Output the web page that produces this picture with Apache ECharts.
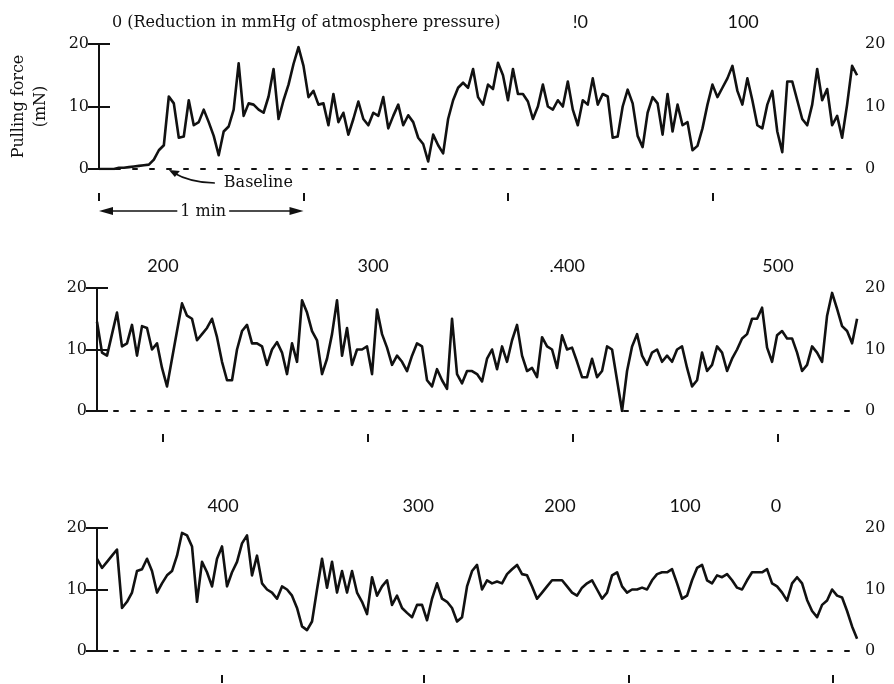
<!DOCTYPE html>
<html>
<head>
<meta charset="utf-8">
<script src="https://cdn.jsdelivr.net/npm/echarts@6/dist/echarts.min.js"></script>
<style>
  html, body { margin: 0; padding: 0; background: #fff; }
  #chart { width: 894px; height: 684px; }
</style>
</head>
<body>
<div id="chart"></div>
<script>
// one sample every 5 px of the trace, 205 px = 1 min
var dt = 60 / 41;
var spanSec = 223;

// pulling force (mN), first row
var force1 = [
  0, 0, 0, 0, 0.2, 0.2, 0.3, 0.4, 0.5, 0.6,
  0.7, 1.5, 3.0, 3.8, 11.6, 10.5, 5, 5.2, 11, 7,
  7.5, 9.5, 7.5, 5.3, 2.2, 6, 6.8, 9.5, 16.9, 8.5,
  10.5, 10.3, 9.5, 9, 11.6, 16, 8, 11, 13.5, 16.8,
  19.5, 16.5, 11.5, 12.5, 10.3, 10.5, 7, 12, 7.5, 9,
  5.5, 8, 10.8, 8, 7, 9, 8.5, 11.5, 6.5, 8.5,
  10.3, 7, 8.6, 7.5, 5, 4, 1.2, 5.5, 3.8, 2.5,
  8, 11, 13, 13.8, 13, 16, 11.5, 10.3, 13.5, 12.8,
  17, 15, 11, 16, 12, 12, 10.8, 8, 10, 13.5,
  10, 9.5, 11, 10, 14, 9.5, 7, 11, 10.3, 14.5,
  10.3, 12, 11.6, 5, 5.2, 10, 12.7, 10.5, 5.3, 3.5,
  9, 11.5, 10.5, 5.5, 12, 6, 10.3, 7, 7.5, 3,
  3.7, 6.5, 10.3, 13.5, 11.5, 13, 14.5, 16.5, 12.5, 10.3,
  14.5, 11, 7, 6.5, 10.3, 12.5, 6, 2.7, 14, 14,
  11, 8, 7, 10.3, 16, 11, 12.8, 7, 8.5, 5,
  10.3, 16.5, 15
];

// second row
var force2 = [
  14.5, 9.5, 9, 12.5, 16, 10.5, 11, 14, 9, 13.8,
  13.5, 10, 11, 7, 4, 8.5, 13, 17.5, 15.5, 15,
  11.5, 12.5, 13.5, 15, 12, 8, 5, 5, 10, 13,
  14, 11, 11, 10.5, 7.5, 10, 11.2, 9.5, 6, 11,
  8, 18, 16, 13, 11.5, 6, 8.5, 12.5, 18, 9,
  13.5, 7.5, 10, 10, 10.5, 6, 16.5, 12.5, 10.3, 7.5,
  9, 8, 6.5, 9, 11, 10.5, 5, 4, 6.8, 5,
  3.6, 15, 6, 4.5, 6.5, 6.5, 6, 4.8, 8.5, 10,
  6.8, 10.5, 8, 11.5, 14, 9, 6.5, 7, 5.5, 12,
  10.5, 10, 7, 12.3, 10, 10.3, 8, 5.5, 5.5, 8.5,
  5.5, 6.5, 10.5, 10, 5, 0, 6.5, 10.5, 12.5, 9,
  7.5, 9.5, 10, 8, 9, 8, 10, 10.5, 7, 4,
  5, 9.5, 6.5, 7.5, 10.5, 9.5, 6.5, 8.5, 10, 11.8,
  12.5, 15, 15, 16.8, 10.3, 8, 12.3, 13, 11.8, 11.8,
  9.5, 6.5, 7.5, 10.5, 9.5, 8, 15.5, 19.2, 16.6, 13.8,
  13, 11, 15
];

// third row
var force3 = [
  15, 13.5, 14.5, 15.5, 16.5, 7, 8, 9.5, 13, 13.3,
  15, 13, 9.5, 11, 12.3, 13, 15.5, 19.2, 18.8, 17,
  8, 14.5, 12.8, 10.5, 15, 17, 10.5, 12.8, 14.5, 17.5,
  18.8, 12.3, 15.5, 11, 10, 9.5, 8.5, 10.5, 10, 9,
  7, 4, 3.4, 4.8, 10, 15, 10.3, 14.5, 9.5, 13,
  9.5, 13, 9.5, 8, 6, 12, 9, 10.5, 11.5, 7.5,
  9, 7, 6.2, 5.5, 7.5, 7.5, 5, 8.5, 11, 8.5,
  8, 7, 4.8, 5.5, 10.5, 13, 14, 10, 11.5, 11,
  11.3, 11, 12.5, 13.3, 14, 12.5, 12.3, 10.5, 8.5, 9.5,
  10.5, 11.5, 11.5, 11.5, 10.5, 9.5, 9, 10.3, 11, 11.5,
  10, 8.5, 9.5, 12.3, 12.8, 10.5, 9.5, 10, 10, 10.3,
  10, 11.5, 12.5, 12.8, 12.8, 13.3, 11, 8.5, 9, 11.5,
  13.5, 14, 11.5, 11, 12.3, 12, 12.5, 11.5, 10.3, 10,
  11.5, 12.8, 12.8, 12.8, 13.3, 11, 10.5, 9.5, 8.2, 11,
  12, 11, 8.3, 6.5, 5.5, 7.5, 8.2, 10, 9, 8.7,
  6.5, 4, 2
];

// time marks under each row (s)
var minTicks1 = [0, 60, 120, 180];
var minTicks2 = [19.3, 79.3, 139.3, 199.3];
var minTicks3 = [36.6, 95.7, 155.7, 215.4];

// pressure reduction labels (mmHg) above each row
var pTimes1 = [3.8, 139, 184.4];
var pText1 = ['0 (Reduction in mmHg of atmosphere pressure)', '!0', '100'];
var pTimes2 = [19.3, 80.8, 137.6, 199.3];
var pText2 = ['200', '300', '.400', '500'];
var pTimes3 = [36.9, 94, 135.5, 172.1, 198.7];
var pText3 = ['400', '300', '200', '100', '0'];

var baselineMark = [20.5, 0];
var oneMin = [0, 60];

var ink = '#111';
var serif = 'DejaVu Serif';

var rows = [
  { data: force1, ticks: minTicks1, pt: pTimes1, ps: pText1, top: 44, h: 125, tickOff: 24, align: 'left' },
  { data: force2, ticks: minTicks2, pt: pTimes2, ps: pText2, top: 288, h: 123, tickOff: 23, align: 'center' },
  { data: force3, ticks: minTicks3, pt: pTimes3, ps: pText3, top: 528, h: 123, tickOff: 24, align: 'center' }
];

function pairs(arr) {
  return arr.map(function (v, i) { return [i * dt, v]; });
}

var grids = [], xAxes = [], yAxes = [], series = [];

rows.forEach(function (r, g) {
  grids.push({ left: 97, width: 762, top: r.top, height: r.h });

  // dotted zero line
  xAxes.push({
    type: 'value', gridIndex: g, min: 0, max: spanSec, position: 'bottom',
    axisLine: { show: true, onZero: false, lineStyle: { color: ink, width: 2, type: [4, 13] } },
    axisTick: { show: false }, axisLabel: { show: false }, splitLine: { show: false }
  });
  // minute marks below
  xAxes.push({
    type: 'value', gridIndex: g, min: 0, max: spanSec, position: 'bottom', offset: r.tickOff,
    axisLine: { show: false, onZero: false },
    axisTick: { show: true, customValues: r.ticks, length: 8, lineStyle: { color: ink, width: 2 } },
    axisLabel: { show: false }, splitLine: { show: false }
  });
  // pressure labels above
  xAxes.push({
    type: 'value', gridIndex: g, min: 0, max: spanSec, position: 'top',
    axisLine: { show: false, onZero: false }, axisTick: { show: false }, splitLine: { show: false },
    axisLabel: {
      show: true, customValues: r.pt, margin: 13, align: r.align,
      formatter: function (val) {
        var k = 0, best = 1e9;
        r.pt.forEach(function (t, j) { if (Math.abs(t - val) < best) { best = Math.abs(t - val); k = j; } });
        var s = r.ps[k];
        return /^[0-9.!]+$/.test(s) ? '{n|' + s + '}' : '{s|' + s + '}';
      },
      rich: {
        n: { fontFamily: 'Lato', fontSize: 18, color: ink },
        s: { fontFamily: serif, fontSize: 16, color: ink }
      }
    }
  });

  var yBase = {
    type: 'value', gridIndex: g, min: 0, max: 20, interval: 10,
    axisLine: { show: true, lineStyle: { color: ink, width: 2 } },
    axisTick: { show: true, inside: true, length: 11, lineStyle: { color: ink, width: 2 } },
    splitLine: { show: false }
  };
  var yl = Object.assign({}, yBase, {
    position: 'left',
    axisLabel: { margin: 10, fontFamily: serif, fontSize: 16, color: ink }
  });
  if (g === 0) {
    yl.name = 'Pulling force\n(mN)';
    yl.nameLocation = 'middle';
    yl.nameRotate = 90;
    yl.nameGap = 47;
    yl.nameTextStyle = { fontFamily: serif, fontSize: 16, color: ink, lineHeight: 22 };
  }
  yAxes.push(yl);
  yAxes.push(Object.assign({}, yBase, {
    position: 'right',
    axisLabel: { margin: 6, fontFamily: serif, fontSize: 16, color: ink }
  }));

  series.push({
    type: 'line', xAxisIndex: 3 * g, yAxisIndex: 2 * g,
    data: pairs(r.data), symbol: 'none', z: 3,
    lineStyle: { color: ink, width: 2.6, join: 'round' }
  });
});

var chart = echarts.init(document.getElementById('chart'));
chart.setOption({
  animation: false,
  backgroundColor: '#fff',
  grid: grids,
  xAxis: xAxes,
  yAxis: yAxes,
  series: series
});

// annotations on the first row
var a = chart.convertToPixel({ gridIndex: 0 }, [oneMin[0], 0]);
var b = chart.convertToPixel({ gridIndex: 0 }, [oneMin[1], 0]);
var bl = chart.convertToPixel({ gridIndex: 0 }, baselineMark);
var ay = a[1] + 42;

chart.setOption({
  graphic: [
    { type: 'line', shape: { x1: a[0] + 4, y1: ay, x2: b[0] - 4, y2: ay }, style: { stroke: ink, lineWidth: 1.5 } },
    { type: 'polygon', shape: { points: [[a[0], ay], [a[0] + 14, ay - 4], [a[0] + 14, ay + 4]] }, style: { fill: ink } },
    { type: 'polygon', shape: { points: [[b[0], ay], [b[0] - 14, ay - 4], [b[0] - 14, ay + 4]] }, style: { fill: ink } },
    {
      type: 'text', x: (a[0] + b[0]) / 2 + 2, y: ay + 1,
      style: { text: '1 min', font: '16px "DejaVu Serif"', fill: ink, align: 'center', verticalAlign: 'middle',
        backgroundColor: '#fff', padding: [0, 3] }
    },
    {
      type: 'bezierCurve',
      shape: { x1: bl[0] + 46, y1: bl[1] + 14, x2: bl[0] + 3, y2: bl[1] + 3, cpx1: bl[0] + 22, cpy1: bl[1] + 14 },
      style: { stroke: ink, lineWidth: 1.5, fill: null }
    },
    { type: 'polygon', shape: { points: [[bl[0], bl[1] + 1], [bl[0] + 11, bl[1] + 2], [bl[0] + 6, bl[1] + 8]] }, style: { fill: ink } },
    {
      type: 'text', x: bl[0] + 55, y: bl[1] + 14,
      style: { text: 'Baseline', font: '16px "DejaVu Serif"', fill: ink, align: 'left', verticalAlign: 'middle' }
    }
  ]
});
</script>
</body>
</html>
